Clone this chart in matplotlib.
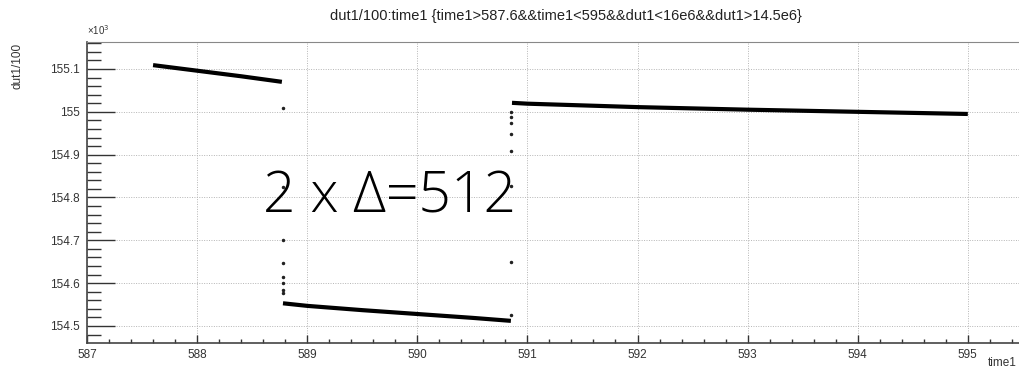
import numpy as np
import matplotlib
matplotlib.use("Agg")
import matplotlib.pyplot as plt
from matplotlib.ticker import MultipleLocator

# dut1/100 (in units of 10^3) vs time1, three stretches of the run
seg1_t = [587.6, 588.0, 588.4, 588.77]
seg1_v = [155.109, 155.096, 155.083, 155.070]

seg2_t = [588.78, 589.0, 589.5, 590.0, 590.5, 590.85]
seg2_v = [154.553, 154.547, 154.537, 154.528, 154.519, 154.512]

seg3_t = [590.86, 591.0, 592.0, 593.0, 594.0, 595.0]
seg3_v = [155.021, 155.019, 155.011, 155.005, 155.000, 154.995]

# isolated samples taken during the two transitions
jump1_t = [588.78] * 8
jump1_v = [155.009, 154.825, 154.700, 154.647, 154.614, 154.600, 154.584, 154.577]
jump2_t = [590.85] * 8
jump2_v = [155.000, 154.988, 154.974, 154.949, 154.909, 154.827, 154.650, 154.525]

title = "dut1/100:time1 {time1>587.6&&time1<595&&dut1<16e6&&dut1>14.5e6}"

plt.rcParams["font.family"] = ["Liberation Sans", "DejaVu Sans"]

fig = plt.figure(figsize=(10.2, 3.72), dpi=100)
ax = fig.add_axes([87 / 1020, 29 / 372, 1 - 87 / 1020, 301 / 372])

for t, v in [(seg1_t, seg1_v), (seg2_t, seg2_v), (seg3_t, seg3_v)]:
    ax.plot(t, v, color="black", lw=3.0, solid_capstyle="butt", zorder=3)
ax.plot(jump1_t, jump1_v, ls="none", marker="o", ms=1.5, color="#222222", zorder=3)
ax.plot(jump2_t, jump2_v, ls="none", marker="o", ms=1.5, color="#222222", zorder=3)

ax.set_xlim(587, 595.474)
ax.set_ylim(154.4603, 155.163)

ax.xaxis.set_major_locator(MultipleLocator(1))
ax.xaxis.set_minor_locator(MultipleLocator(0.2))
ax.yaxis.set_major_locator(MultipleLocator(0.1))
ax.yaxis.set_minor_locator(MultipleLocator(0.02))
ax.yaxis.set_major_formatter(plt.FuncFormatter(lambda v, p: f"{v:g}"))

ax.tick_params(axis="both", which="both", direction="in", colors="#333333",
               labelcolor="#333333", labelsize=8.5, width=1.0)
ax.tick_params(axis="y", which="major", length=20, pad=5)
ax.tick_params(axis="y", which="minor", length=10)
ax.tick_params(axis="x", which="major", length=6, pad=4)
ax.tick_params(axis="x", which="minor", length=3)

ax.grid(True, which="major", color="#b5b5b5", ls=(0, (1, 1.5)), lw=0.7, zorder=0)
ax.spines["right"].set_visible(False)
for s in ["left", "bottom"]:
    ax.spines[s].set_color("#444444")
    ax.spines[s].set_linewidth(1.2)
ax.spines["top"].set_color("#888888")
ax.spines["top"].set_linewidth(0.8)

fig.text(566 / 1020, 1 - 16 / 372, title, ha="center", va="center",
         fontsize=10.5, color="#222222")
fig.text(87 / 1020, 1 - 37 / 372, "×10$^3$", ha="left", va="bottom",
         fontsize=7, color="#333333")
fig.text(18 / 1020, 1 - 43 / 372, "dut1/100", rotation=90, ha="center",
         va="top", fontsize=8.5, color="#333333")
fig.text(1017 / 1020, 1 - 363 / 372, "time1", ha="right", va="center",
         fontsize=8.5, color="#333333")

# big annotation of the step size
ax.text(587 + (263 - 87) / 110.1, 154.5 + (326 - 213) / 428, "2 x Δ=512",
        ha="left", va="baseline", fontsize=41, color="black", zorder=4,
        family=["Open Sans", "DejaVu Sans"], fontweight="light")

fig.savefig("out.png", dpi=100)
